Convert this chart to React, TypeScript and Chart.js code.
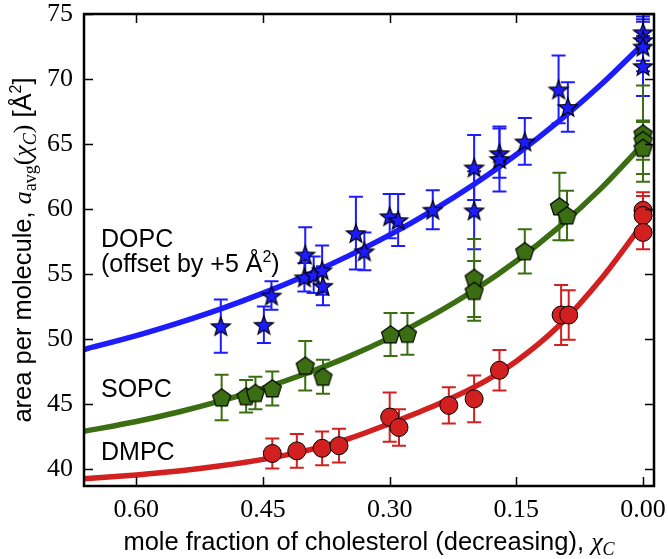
import { useEffect, useRef } from 'react';
import { Chart, registerables } from 'chart.js';
Chart.register(...registerables);

// ---- axis ticks ----
const xTickValues = [0.6, 0.45, 0.3, 0.15, 0.0];
const yTickValues = [40, 45, 50, 55, 60, 65, 70, 75];

// ---- DMPC (red circles) ----
const dmpcX = [0.439, 0.41, 0.38, 0.36, 0.3, 0.289, 0.23, 0.2, 0.17, 0.097, 0.088, 0.0, 0.0, 0.0];
const dmpcY = [41.2, 41.4, 41.6, 41.8, 44.0, 43.2, 44.9, 45.4, 47.6, 51.85, 51.85, 59.9, 59.5, 58.2];
const dmpcErr = [1.15, 1.3, 1.3, 1.3, 1.9, 1.4, 1.4, 1.8, 1.55, 2.3, 1.9, 1.4, 1.5, 1.3];

// ---- SOPC (green pentagons) ----
const sopcX = [0.499, 0.47, 0.459, 0.439, 0.4, 0.379, 0.299, 0.279, 0.2, 0.2, 0.14, 0.099, 0.09, 0.0, 0.0, 0.0];
const sopcY = [45.5, 45.6, 45.85, 46.2, 47.95, 47.1, 50.35, 50.4, 54.7, 53.7, 56.75, 60.2, 59.5, 65.8, 65.3, 64.7];
const sopcErr = [1.75, 1.25, 1.25, 1.3, 1.9, 1.3, 1.65, 1.6, 3.0, 2.3, 1.7, 2.6, 1.9, 3.7, 1.5, 2.0];

// ---- DOPC (blue stars, offset by +5) ----
const dopcX = [0.5, 0.449, 0.44, 0.4, 0.401, 0.39, 0.38, 0.379, 0.34, 0.33, 0.3, 0.29, 0.249, 0.2, 0.2, 0.17, 0.17, 0.14, 0.1, 0.089, 0.0, 0.0, 0.0, 0.0];
const dopcY = [51.0, 51.1, 53.35, 56.5, 54.75, 54.95, 55.3, 54.1, 58.15, 56.75, 59.45, 59.15, 59.95, 59.9, 63.2, 64.3, 63.85, 65.2, 69.2, 67.85, 73.6, 73.0, 72.5, 71.0];
const dopcErr = [2.05, 1.4, 1.1, 2.1, 1.1, 1.4, 1.9, 1.5, 2.8, 1.45, 1.7, 2.0, 1.5, 3.0, 2.5, 1.9, 2.5, 1.8, 2.6, 1.9, 1.2, 1.6, 1.9, 2.3];

// ---- fitted curves (read along x) ----
const curveX = [0.662, 0.6, 0.55, 0.5, 0.45, 0.4, 0.35, 0.3, 0.25, 0.2, 0.15, 0.1, 0.05, 0.0];
const dopcCurve = [49.2, 50.26, 51.24, 52.32, 53.53, 54.87, 56.36, 58.01, 59.86, 61.91, 64.19, 66.74, 69.56, 72.7];
const sopcCurve = [42.9, 43.66, 44.39, 45.24, 46.21, 47.33, 48.61, 50.09, 51.8, 53.75, 56.0, 58.59, 61.57, 65.0];
const dmpcCurve = [39.25, 39.55, 39.85, 40.25, 40.75, 41.4, 42.3, 43.5, 44.8, 46.3, 48.3, 51.0, 54.6, 58.9];

const BLUE = '#1c1cff';
const GREEN = '#3b6e12';
const RED = '#d21f1f';

const SANS = '"Liberation Sans", Arial, sans-serif';
const SERIF = '"Liberation Serif", "Times New Roman", serif';

type Seg = { t: string; f: string; dy?: number };

function drawRich(ctx: CanvasRenderingContext2D, segs: Seg[], x: number, y: number, align: 'left' | 'center') {
  let w = 0;
  segs.forEach((s) => {
    ctx.font = s.f;
    w += ctx.measureText(s.t).width;
  });
  let cx = align === 'center' ? x - w / 2 : x;
  ctx.textAlign = 'left';
  ctx.textBaseline = 'alphabetic';
  ctx.fillStyle = '#000';
  segs.forEach((s) => {
    ctx.font = s.f;
    ctx.fillText(s.t, cx, y + (s.dy || 0));
    cx += ctx.measureText(s.t).width;
  });
}

function makeMarker(kind: 'star' | 'pentagon', fill: string, r: number): HTMLCanvasElement {
  const size = Math.ceil(r * 2 + 4);
  const c = document.createElement('canvas');
  c.width = size;
  c.height = size;
  const g = c.getContext('2d')!;
  const cx = size / 2;
  const cy = size / 2;
  g.beginPath();
  if (kind === 'star') {
    const inner = r * 0.42;
    for (let i = 0; i < 10; i++) {
      const rr = i % 2 === 0 ? r : inner;
      const a = -Math.PI / 2 + (i * Math.PI) / 5;
      const px = cx + rr * Math.cos(a);
      const py = cy + rr * Math.sin(a) + r * 0.1;
      if (i === 0) g.moveTo(px, py);
      else g.lineTo(px, py);
    }
  } else {
    for (let i = 0; i < 5; i++) {
      const a = -Math.PI / 2 + (i * 2 * Math.PI) / 5;
      const px = cx + r * Math.cos(a);
      const py = cy + r * Math.sin(a) + r * 0.08;
      if (i === 0) g.moveTo(px, py);
      else g.lineTo(px, py);
    }
  }
  g.closePath();
  g.fillStyle = fill;
  g.fill();
  g.lineWidth = 1.2;
  g.strokeStyle = '#000';
  g.stroke();
  return c;
}

const errMap: Record<number, { xs: number[]; ys: number[]; es: number[]; color: string }> = {
  3: { xs: dmpcX, ys: dmpcY, es: dmpcErr, color: RED },
  4: { xs: sopcX, ys: sopcY, es: sopcErr, color: GREEN },
  5: { xs: dopcX, ys: dopcY, es: dopcErr, color: BLUE },
};

const decorPlugin = {
  id: 'decor',
  beforeDatasetDraw(chart: any, args: any) {
    const e = errMap[args.index];
    if (!e) return;
    const ctx: CanvasRenderingContext2D = chart.ctx;
    const xs = chart.scales.x;
    const ys = chart.scales.y;
    ctx.save();
    ctx.strokeStyle = e.color;
    ctx.lineWidth = 2;
    e.xs.forEach((xv, i) => {
      const px = xs.getPixelForValue(xv);
      const t = ys.getPixelForValue(e.ys[i] + e.es[i]);
      const b = ys.getPixelForValue(e.ys[i] - e.es[i]);
      ctx.beginPath();
      ctx.moveTo(px, t);
      ctx.lineTo(px, b);
      ctx.moveTo(px - 7, t);
      ctx.lineTo(px + 7, t);
      ctx.moveTo(px - 7, b);
      ctx.lineTo(px + 7, b);
      ctx.stroke();
    });
    ctx.restore();
  },
  afterDraw(chart: any) {
    const ctx: CanvasRenderingContext2D = chart.ctx;
    const { left, right, top, bottom } = chart.chartArea;
    const xs = chart.scales.x;
    const ys = chart.scales.y;
    ctx.save();
    ctx.strokeStyle = '#000';
    ctx.lineWidth = 1.5;
    ctx.beginPath();
    xTickValues.forEach((v) => {
      const px = Math.round(xs.getPixelForValue(v)) + 0.5;
      ctx.moveTo(px, bottom);
      ctx.lineTo(px, bottom - 9);
      ctx.moveTo(px, top);
      ctx.lineTo(px, top + 9);
    });
    yTickValues.forEach((v) => {
      const py = Math.round(ys.getPixelForValue(v)) + 0.5;
      ctx.moveTo(left, py);
      ctx.lineTo(left + 9, py);
      ctx.moveTo(right, py);
      ctx.lineTo(right - 9, py);
    });
    ctx.stroke();
    ctx.lineWidth = 2.5;
    ctx.strokeRect(left, top, right - left, bottom - top);

    // series labels
    const lab = `25px ${SANS}`;
    drawRich(ctx, [{ t: 'DOPC', f: lab }], 101, 247, 'left');
    drawRich(
      ctx,
      [
        { t: '(offset by +5 Å', f: lab },
        { t: '2', f: `16px ${SANS}`, dy: -10 },
        { t: ')', f: lab },
      ],
      101,
      272,
      'left'
    );
    drawRich(ctx, [{ t: 'SOPC', f: lab }], 101, 397, 'left');
    drawRich(ctx, [{ t: 'DMPC', f: lab }], 101, 460, 'left');

    // x title
    drawRich(
      ctx,
      [
        { t: 'mole fraction of cholesterol (decreasing), ', f: `25.5px ${SANS}` },
        { t: 'χ', f: `italic 26px ${SERIF}` },
        { t: 'C', f: `italic 18px ${SERIF}`, dy: 5 },
      ],
      (left + right) / 2,
      550,
      'center'
    );

    // y title
    ctx.translate(31, (top + bottom) / 2);
    ctx.rotate(-Math.PI / 2);
    drawRich(
      ctx,
      [
        { t: 'area per molecule, ', f: `25.5px ${SANS}` },
        { t: 'a', f: `italic 26px ${SERIF}` },
        { t: 'avg', f: `18px ${SERIF}`, dy: 5 },
        { t: '(', f: `26px ${SERIF}` },
        { t: 'χ', f: `italic 26px ${SERIF}` },
        { t: 'C', f: `italic 18px ${SERIF}`, dy: 5 },
        { t: ')', f: `26px ${SERIF}` },
        { t: ' [Å', f: `25.5px ${SANS}` },
        { t: '2', f: `16px ${SANS}`, dy: -10 },
        { t: ']', f: `25.5px ${SANS}` },
      ],
      0,
      0,
      'center'
    );
    ctx.restore();
  },
};

function pts(xs: number[], ys: number[]) {
  return xs.map((x, i) => ({ x, y: ys[i] }));
}

export default function App() {
  const ref = useRef<HTMLCanvasElement>(null);
  useEffect(() => {
    if (!ref.current) return;
    const star = makeMarker('star', BLUE, 10);
    const pent = makeMarker('pentagon', GREEN, 9.5);
    const curveDs = (data: number[], color: string) => ({
      type: 'line' as const,
      data: pts(curveX, data),
      borderColor: color,
      borderWidth: 5.5,
      pointRadius: 0,
      cubicInterpolationMode: 'monotone' as const,
      fill: false,
      order: 2,
    });
    const chart = new Chart(ref.current, {
      type: 'scatter',
      data: {
        datasets: [
          curveDs(dmpcCurve, RED),
          curveDs(sopcCurve, GREEN),
          curveDs(dopcCurve, BLUE),
          {
            data: pts(dmpcX, dmpcY),
            pointStyle: 'circle',
            pointRadius: 9,
            backgroundColor: RED,
            borderColor: '#000',
            borderWidth: 1,
            order: 1,
            clip: false,
          } as any,
          {
            data: pts(sopcX, sopcY),
            pointStyle: pent,
            pointRadius: 10,
            order: 1,
            clip: false,
          } as any,
          {
            data: pts(dopcX, dopcY),
            pointStyle: star,
            pointRadius: 10,
            order: 1,
            clip: false,
          } as any,
        ],
      },
      options: {
        animation: false,
        responsive: false,
        devicePixelRatio: 1,
        events: [],
        layout: { padding: { top: 14, right: 14, left: 0, bottom: 0 } },
        plugins: { legend: { display: false }, tooltip: { enabled: false } },
        scales: {
          x: {
            type: 'linear',
            reverse: true,
            min: -0.013,
            max: 0.662,
            grid: { display: false, drawTicks: false },
            border: { display: false },
            afterBuildTicks: (s: any) => {
              s.ticks = xTickValues.map((v) => ({ value: v }));
            },
            afterFit: (s: any) => {
              s.height = 73;
              s.paddingLeft = 0;
              s.paddingRight = 0;
            },
            ticks: {
              color: '#000',
              padding: 9,
              maxRotation: 0,
              font: { family: SERIF, size: 26 },
              callback: (v: any) => Number(v).toFixed(2),
            },
          },
          y: {
            type: 'linear',
            min: 38.7,
            max: 75,
            grid: { display: false, drawTicks: false },
            border: { display: false },
            afterBuildTicks: (s: any) => {
              s.ticks = yTickValues.map((v) => ({ value: v }));
            },
            afterFit: (s: any) => {
              s.width = 84;
              s.paddingTop = 0;
              s.paddingBottom = 0;
            },
            ticks: {
              color: '#000',
              padding: 11,
              font: { family: SERIF, size: 26 },
              callback: (v: any) => String(v),
            },
          },
        },
      },
      plugins: [decorPlugin],
    });
    return () => chart.destroy();
  }, []);
  return (
    <div style={{ position: 'absolute', left: 0, top: 0, width: 668, height: 559 }}>
      <canvas ref={ref} width={668} height={559} style={{ width: 668, height: 559, display: 'block' }} />
    </div>
  );
}
